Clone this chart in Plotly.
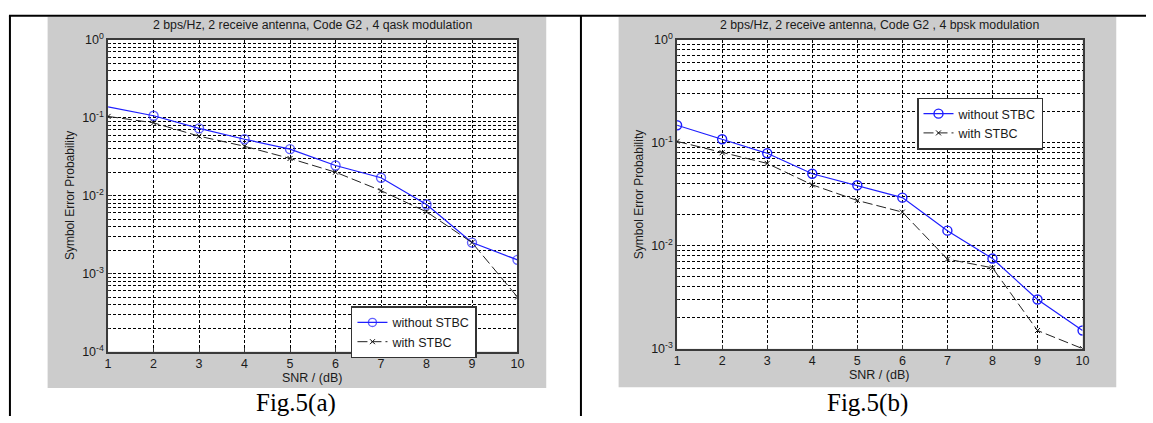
import plotly.graph_objects as go

# ---------------- data ----------------
snr = [1, 2, 3, 4, 5, 6, 7, 8, 9, 10]
a_without = [0.138, 0.106, 0.073, 0.053, 0.0395, 0.0244, 0.017, 0.0077, 0.0025, 0.0015]
a_with = [0.104, 0.086, 0.058, 0.043, 0.030, 0.020, 0.0116, 0.0062, 0.0025, 0.0005]
b_without = [0.148, 0.108, 0.079, 0.050, 0.0386, 0.0293, 0.014, 0.0075, 0.0030, 0.0015]
b_with = [0.103, 0.080, 0.063, 0.039, 0.0275, 0.0212, 0.0074, 0.0061, 0.0015, 0.001]

title_a = "2 bps/Hz, 2 receive antenna, Code G2 , 4 qask modulation"
title_b = "2 bps/Hz, 2 receive antenna, Code G2 , 4 bpsk modulation"
caption_a = "Fig.5(a)"
caption_b = "Fig.5(b)"
name_without = "without STBC"
name_with = "with STBC"
x_label = "SNR / (dB)"
y_label = "Symbol Error Probability"

# ---------------- layout helpers ----------------
W, H = 1153, 423


def px(x):
    return x / W


def py(y):
    return 1 - y / H


FONT = "Liberation Sans, Arial, sans-serif"
GRID_DASH = "3px,2px"

fig = go.Figure()

# markers: left plot's first circle is not drawn in the reference
a_sizes = [0] + [9] * (len(snr) - 1)

fig.add_trace(go.Scatter(
    x=snr, y=a_without, name=name_without, mode="lines+markers",
    line=dict(color="#1f1fff", width=1.2),
    marker=dict(symbol="circle-open", size=a_sizes, color="#1f1fff", line=dict(width=1.4)),
    xaxis="x", yaxis="y", legend="legend"))
fig.add_trace(go.Scatter(
    x=snr, y=a_with, name=name_with, mode="lines+markers",
    line=dict(color="#222222", width=1, dash="10px,4px"),
    marker=dict(symbol="x-thin", size=5, color="#111111", line=dict(width=1, color="#111111")),
    xaxis="x", yaxis="y", legend="legend"))
fig.add_trace(go.Scatter(
    x=snr, y=b_without, name=name_without, mode="lines+markers",
    line=dict(color="#1f1fff", width=1.2),
    marker=dict(symbol="circle-open", size=9, color="#1f1fff", line=dict(width=1.4)),
    xaxis="x2", yaxis="y2", legend="legend2"))
fig.add_trace(go.Scatter(
    x=snr, y=b_with, name=name_with, mode="lines+markers",
    line=dict(color="#222222", width=1, dash="10px,4px"),
    marker=dict(symbol="x-thin", size=5, color="#111111", line=dict(width=1, color="#111111")),
    xaxis="x2", yaxis="y2", legend="legend2"))


def xaxis_cfg(dom, anchor):
    return dict(
        domain=dom, anchor=anchor, range=[1, 10], tickvals=snr,
        ticktext=[str(v) for v in snr],
        showgrid=True, gridcolor="black", gridwidth=1, griddash=GRID_DASH,
        zeroline=False, showline=True, mirror=True, linecolor="#3a3a3a", linewidth=1.5,
        ticks="inside", ticklen=4, tickcolor="#3a3a3a",
        tickfont=dict(family=FONT, size=12.5, color="#1a1a1a"), fixedrange=True)


def yaxis_cfg(dom, anchor, lo):
    decades = list(range(lo, 1))
    return dict(
        domain=dom, anchor=anchor, type="log", range=[lo, 0],
        tickvals=[10.0 ** k for k in decades],
        ticktext=["10<sup>%d</sup>" % k for k in decades],
        showgrid=True, gridcolor="black", gridwidth=1, griddash=GRID_DASH,
        minor=dict(tickvals=[m * 10.0 ** k for k in range(lo, 0) for m in range(2, 10)],
                   showgrid=True, gridcolor="black", gridwidth=1, griddash=GRID_DASH,
                   ticks="inside", ticklen=2, tickcolor="#3a3a3a"),
        zeroline=False, showline=True, mirror=True, linecolor="#3a3a3a", linewidth=1.5,
        ticks="inside", ticklen=4, tickcolor="#3a3a3a",
        tickfont=dict(family=FONT, size=12.5, color="#1a1a1a"), fixedrange=True)


shapes = []
# grey figure panels
shapes.append(dict(type="rect", xref="paper", yref="paper", x0=px(45), x1=px(548), y0=py(394), y1=py(8),
                   fillcolor="#cccccc", line=dict(width=0), layer="below"))
shapes.append(dict(type="rect", xref="paper", yref="paper", x0=px(621), x1=px(1123), y0=py(393), y1=py(8),
                   fillcolor="#cccccc", line=dict(width=0), layer="below"))
# white plot areas
shapes.append(dict(type="rect", xref="paper", yref="paper", x0=px(106), x1=px(519), y0=py(356), y1=py(32),
                   fillcolor="white", line=dict(width=0), layer="below"))
shapes.append(dict(type="rect", xref="paper", yref="paper", x0=px(680), x1=px(1089), y0=py(353), y1=py(32),
                   fillcolor="white", line=dict(width=0), layer="below"))
# table borders
shapes.append(dict(type="line", xref="paper", yref="paper", x0=px(6), x1=1, y0=py(7), y1=py(7),
                   line=dict(color="black", width=2)))
shapes.append(dict(type="line", xref="paper", yref="paper", x0=px(7), x1=px(7), y0=0, y1=py(7),
                   line=dict(color="black", width=2)))
shapes.append(dict(type="line", xref="paper", yref="paper", x0=px(583), x1=px(583), y0=0, y1=py(7),
                   line=dict(color="black", width=2)))

annotations = [
    dict(text=title_a, x=px(312), y=py(17), xref="paper", yref="paper", showarrow=False,
         xanchor="center", yanchor="middle", font=dict(family=FONT, size=12.3, color="#1a1a1a")),
    dict(text=title_b, x=px(884), y=py(17), xref="paper", yref="paper", showarrow=False,
         xanchor="center", yanchor="middle", font=dict(family=FONT, size=12.3, color="#1a1a1a")),
    dict(text=x_label, x=px(312), y=py(383), xref="paper", yref="paper", showarrow=False,
         xanchor="center", yanchor="middle", font=dict(family=FONT, size=12.5, color="#1a1a1a")),
    dict(text=x_label, x=px(884), y=py(380), xref="paper", yref="paper", showarrow=False,
         xanchor="center", yanchor="middle", font=dict(family=FONT, size=12.5, color="#1a1a1a")),
    dict(text=y_label, x=px(67), y=py(194), xref="paper", yref="paper", showarrow=False, textangle=-90,
         xanchor="center", yanchor="middle", font=dict(family=FONT, size=12, color="#1a1a1a")),
    dict(text=y_label, x=px(641), y=py(193), xref="paper", yref="paper", showarrow=False, textangle=-90,
         xanchor="center", yanchor="middle", font=dict(family=FONT, size=12, color="#1a1a1a")),
    dict(text=caption_a, x=px(296), y=py(410), xref="paper", yref="paper", showarrow=False,
         xanchor="center", yanchor="middle", font=dict(family="Liberation Serif, Times New Roman, serif", size=25, color="black")),
    dict(text=caption_b, x=px(872), y=py(410), xref="paper", yref="paper", showarrow=False,
         xanchor="center", yanchor="middle", font=dict(family="Liberation Serif, Times New Roman, serif", size=25, color="black")),
]

legend_common = dict(xanchor="left", yanchor="top", bgcolor="white", bordercolor="#333333", borderwidth=1.5,
                     font=dict(family=FONT, size=12.5, color="#1a1a1a"), tracegroupgap=0, itemwidth=30)

fig.update_layout(
    width=W, height=H, margin=dict(l=0, r=0, t=0, b=0),
    paper_bgcolor="white", plot_bgcolor="white",
    xaxis=xaxis_cfg([px(106), px(519)], "y"),
    yaxis=yaxis_cfg([py(356), py(32)], "x", -4),
    xaxis2=xaxis_cfg([px(680), px(1089)], "y2"),
    yaxis2=yaxis_cfg([py(353), py(32)], "x2", -3),
    legend=dict(x=px(351), y=py(309), **legend_common),
    legend2=dict(x=px(922), y=py(92), **legend_common),
    shapes=shapes, annotations=annotations, showlegend=True,
)

fig.write_html(
    "out.html",
    config={"displayModeBar": False, "staticPlot": False},
    post_script="document.body.style.margin='0';document.body.style.padding='0';"
                "document.body.style.overflow='hidden';",
)
